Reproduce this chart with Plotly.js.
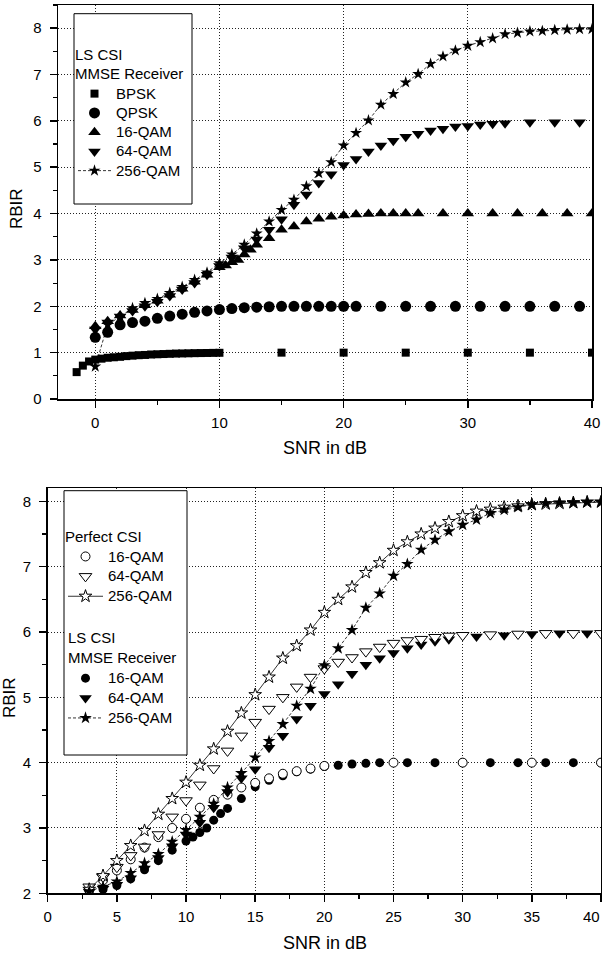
<!DOCTYPE html>
<html><head><meta charset="utf-8">
<script src="https://cdn.plot.ly/plotly-3.0.1.min.js"></script>
<style>html,body{margin:0;padding:0;background:#fff}#chart{width:602px;height:958px}</style>
</head><body><div id="chart"></div>
<script>
// ---------- Top panel: LS CSI, MMSE receiver ----------
const bpskX = [-1.5,-1,-0.5,0,0.5,1,1.5,2,2.5,3,3.5,4,4.5,5,5.5,6,6.5,7,7.5,8,8.5,9,9.5,10,15,20,25,30,35,40];
const bpskY = [0.58,0.72,0.81,0.85,0.87,0.89,0.9,0.91,0.925,0.935,0.945,0.95,0.96,0.965,0.97,0.975,0.98,0.983,0.986,0.989,0.991,0.993,0.995,0.997,1,1,1,1,1,1];
const qpskX = [0,1,2,3,4,5,6,7,8,9,10,11,12,13,14,15,16,17,18,19,20,21,23,25,27,29,31,33,35,37,39];
const qpskY = [1.33,1.44,1.6,1.65,1.68,1.74,1.79,1.83,1.87,1.9,1.93,1.95,1.97,1.98,1.99,2,2,2,2,2,2,2,2,2,2,2,2,2,2,2,2];
const q16X = [0,1,2,3,4,5,6,7,8,9,10,10.5,11,11.5,12,12.5,13,14,15,16,17,18,19,20,21,22,23,24,25,26,28,30,32,34,36,38,40];
const q16Y = [1.57,1.68,1.8,1.92,2.02,2.12,2.25,2.38,2.53,2.68,2.84,2.88,2.95,3.0,3.12,3.22,3.33,3.47,3.65,3.72,3.83,3.89,3.93,3.96,3.98,3.99,4,4,4,4,4,4,4,4,4,4,4];
const q64X = [0,1,2,3,4,5,6,7,8,9,10,11,12,13,14,15,16,17,18,19,20,21,22,23,24,25,26,27,28,29,30,31,32,33,35,37,39];
const q64Y = [1.5,1.65,1.78,1.9,2.0,2.1,2.22,2.36,2.5,2.68,2.87,3.05,3.25,3.44,3.65,3.88,4.19,4.41,4.66,4.85,5.05,5.18,5.34,5.47,5.57,5.66,5.72,5.79,5.83,5.88,5.89,5.92,5.94,5.95,5.97,5.97,5.97];
const q256X = [0,1,2,3,4,5,6,7,8,9,10,11,12,13,14,15,16,17,18,19,20,21,22,23,24,25,26,27,28,29,30,31,32,33,34,35,36,37,38,39,40];
const q256Y = [0.7,1.6,1.78,1.96,2.07,2.16,2.29,2.42,2.57,2.73,2.93,3.12,3.33,3.57,3.83,4.08,4.3,4.59,4.87,5.11,5.47,5.74,6.01,6.35,6.58,6.83,7.01,7.23,7.39,7.52,7.62,7.70,7.78,7.87,7.9,7.93,7.94,7.96,7.97,7.98,7.98];

// ---------- Bottom panel: Perfect CSI vs LS CSI ----------
const p16X = [3,4,5,6,7,8,9,10,11,12,13,14,15,16,17,18,19,20,25,30,35,40];
const p16Y = [2.05,2.2,2.35,2.52,2.7,2.86,3.0,3.14,3.31,3.43,3.51,3.62,3.69,3.76,3.83,3.87,3.91,3.95,4,4,4,4];
const p64X = [3,4,5,6,7,8,9,10,11,12,13,14,15,16,17,18,19,20,21,22,23,24,25,26,27,28,29,30,32,34,36,38,40];
const p64Y = [2.1,2.25,2.4,2.58,2.71,2.9,3.17,3.42,3.66,3.91,4.18,4.41,4.62,4.82,5.0,5.16,5.31,5.44,5.54,5.61,5.7,5.77,5.83,5.87,5.89,5.92,5.94,5.95,5.96,5.97,5.98,5.98,5.98];
const p256X = [3,4,5,6,7,8,9,10,11,12,13,14,15,16,17,18,19,20,21,22,23,24,25,26,27,28,29,30,31,32,33,34,35,36,37,38,39,40];
const p256Y = [2.06,2.27,2.5,2.73,2.96,3.21,3.45,3.7,3.96,4.21,4.48,4.76,5.04,5.31,5.6,5.79,6.03,6.3,6.5,6.69,6.91,7.06,7.25,7.38,7.5,7.59,7.69,7.78,7.85,7.88,7.91,7.93,7.95,7.96,7.97,7.98,7.99,7.99];
const l16X = [3,4,5,6,7,8,9,10,10.5,11,11.5,12,12.5,13,14,15,16,17,18,19,20,21,22,23,24,26,28,30,32,34,36,38,40];
const l16Y = [2.0,2.06,2.12,2.22,2.36,2.5,2.66,2.8,2.86,2.93,3.0,3.12,3.22,3.3,3.45,3.63,3.73,3.8,3.86,3.9,3.94,3.96,3.98,3.99,4,4,4,4,4,4,4,4,4];
const l64X = [3,4,5,6,7,8,9,10,11,12,13,14,15,16,17,18,19,20,21,22,23,24,25,26,27,28,29,31,33,35,37,39];
const l64Y = [2.02,2.07,2.13,2.23,2.38,2.54,2.72,2.9,3.08,3.31,3.55,3.76,3.9,4.23,4.41,4.67,4.87,5.05,5.2,5.36,5.5,5.6,5.68,5.75,5.81,5.86,5.89,5.93,5.95,5.97,5.98,5.98];
const l256X = [3,4,5,6,7,8,9,10,11,12,13,14,15,16,17,18,19,20,21,22,23,24,25,26,27,28,29,30,31,32,33,34,35,36,37,38,39,40];
const l256Y = [2.03,2.1,2.18,2.31,2.46,2.6,2.79,2.97,3.17,3.37,3.62,3.84,4.08,4.33,4.59,4.87,5.13,5.49,5.75,6.03,6.37,6.59,6.86,7.04,7.26,7.41,7.54,7.64,7.72,7.82,7.87,7.91,7.95,7.97,7.98,7.98,7.99,7.99];

// bottom x tick labels (last one is written separately so it is not cut at the page edge)
const x2TickVals = [0,5,10,15,20,25,30,35,40];
const x2TickText = ['0','5','10','15','20','25','30','35',''];
const x2LastLabel = '40';

const xTitle = 'SNR in dB';
const yTitle = 'RBIR';

const FONT = '"Liberation Sans", Arial, Helvetica, sans-serif';
const BLK = '#000';
function lbl(t){ return '<span style="font-size:15px">' + t + '</span>'; }

const filled = (sym, size) => ({symbol: sym, size: size, color: BLK, line: {width: 0}});
const hollow = (sym, size) => ({symbol: sym, size: size, color: '#fff', line: {color: BLK, width: 1}});

const data = [
  {x: bpskX, y: bpskY, xaxis: 'x', yaxis: 'y', mode: 'markers', name: lbl('BPSK'), legend: 'legend', marker: filled('square', 8)},
  {x: qpskX, y: qpskY, xaxis: 'x', yaxis: 'y', mode: 'markers', name: lbl('QPSK'), legend: 'legend', marker: filled('circle', 11)},
  {x: q16X, y: q16Y, xaxis: 'x', yaxis: 'y', mode: 'markers', name: lbl('16-QAM'), legend: 'legend', marker: filled('triangle-up', 11)},
  {x: q64X, y: q64Y, xaxis: 'x', yaxis: 'y', mode: 'markers', name: lbl('64-QAM'), legend: 'legend', marker: filled('triangle-down', 11)},
  {x: q256X, y: q256Y, xaxis: 'x', yaxis: 'y', mode: 'lines+markers', name: lbl('256-QAM'), legend: 'legend',
   line: {color: BLK, width: 0.8, dash: '3px,2px'}, marker: filled('star', 9)},

  {x: l16X, y: l16Y, xaxis: 'x2', yaxis: 'y2', mode: 'markers', name: lbl('16-QAM'), legend: 'legend2',
   legendgroup: 'ls', legendgrouptitle: {text: 'LS CSI<br>MMSE Receiver', font: {size: 15, family: FONT, color: BLK}}, legendrank: 4,
   marker: filled('circle', 9)},
  {x: p16X, y: p16Y, xaxis: 'x2', yaxis: 'y2', mode: 'markers', name: lbl('16-QAM'), legend: 'legend2',
   legendgroup: 'perfect', legendrank: 1, marker: hollow('circle', 9)},
  {x: l64X, y: l64Y, xaxis: 'x2', yaxis: 'y2', mode: 'markers', name: lbl('64-QAM'), legend: 'legend2',
   legendgroup: 'ls', legendrank: 5, marker: filled('triangle-down', 11)},
  {x: p64X, y: p64Y, xaxis: 'x2', yaxis: 'y2', mode: 'markers', name: lbl('64-QAM'), legend: 'legend2',
   legendgroup: 'perfect', legendrank: 2, marker: hollow('triangle-down', 11)},
  {x: p256X, y: p256Y, xaxis: 'x2', yaxis: 'y2', mode: 'lines+markers', name: lbl('256-QAM'), legend: 'legend2',
   legendgroup: 'perfect', legendrank: 3, line: {color: BLK, width: 0.8}, marker: hollow('star', 9.5)},
  {x: l256X, y: l256Y, xaxis: 'x2', yaxis: 'y2', mode: 'lines+markers', name: lbl('256-QAM'), legend: 'legend2',
   legendgroup: 'ls', legendrank: 6, line: {color: BLK, width: 0.8, dash: '3px,2px'}, marker: filled('star', 9.5)}
];

const W = 602, H = 958;
const axBase = {
  showline: true, linecolor: BLK, linewidth: 1.5, mirror: true,
  ticks: 'outside', ticklen: 7, tickwidth: 1.5, tickcolor: BLK,
  showgrid: true, gridcolor: '#222', gridwidth: 1, griddash: '1px,2px',
  zeroline: false, automargin: false, fixedrange: true,
  tickfont: {family: FONT, size: 15, color: BLK}
};
const minorT = (d) => ({dtick: d, ticks: 'outside', ticklen: 4, tickwidth: 1.2, tickcolor: BLK, showgrid: false});

const layout = {
  width: W, height: H,
  margin: {l: 0, r: 0, t: 0, b: 0},
  paper_bgcolor: '#fff', plot_bgcolor: '#fff',
  font: {family: FONT, size: 15, color: BLK},
  showlegend: true,
  xaxis: Object.assign({}, axBase, {domain: [58/W, 592/W], range: [-3, 40], anchor: 'y', tick0: 0, dtick: 10, minor: minorT(5), ticklabelstandoff: 2}),
  yaxis: Object.assign({}, axBase, {domain: [1 - 399/H, 1 - 5/H], range: [0, 8.5], anchor: 'x', tick0: 0, dtick: 1, minor: minorT(0.5), ticklabelstandoff: 5}),
  xaxis2: Object.assign({}, axBase, {domain: [47.7/W, 601/W], range: [0, 40], anchor: 'y2', tickmode: 'array', tickvals: x2TickVals, ticktext: x2TickText,
    minor: Object.assign(minorT(2.5), {tick0: 0}), ticklabelstandoff: 2}),
  yaxis2: Object.assign({}, axBase, {domain: [1 - 893.3/H, 1 - 488.3/H], range: [2, 8.2], anchor: 'x2', tick0: 0, dtick: 1, minor: minorT(0.5), ticklabelstandoff: 5}),
  legend: {
    x: 73/W, y: 1 - 40/H, xanchor: 'left', yanchor: 'top',
    bgcolor: 'rgba(0,0,0,0)', borderwidth: 0,
    font: {family: FONT, size: 12.5, color: BLK},
    title: {text: 'LS CSI<br>MMSE Receiver', font: {family: FONT, size: 15, color: BLK}},
    itemsizing: 'trace', itemwidth: 33, tracegroupgap: 0
  },
  legend2: {
    x: 63/W, y: 1 - 522/H, xanchor: 'left', yanchor: 'top',
    bgcolor: 'rgba(0,0,0,0)', borderwidth: 0,
    font: {family: FONT, size: 13, color: BLK},
    title: {text: 'Perfect CSI', font: {family: FONT, size: 15, color: BLK}},
    traceorder: 'grouped', tracegroupgap: 20, itemsizing: 'trace', itemwidth: 35
  },
  shapes: [
    {type: 'rect', xref: 'paper', yref: 'paper', x0: 74/W, x1: 192/W, y0: 1 - 204/H, y1: 1 - 13.7/H,
     fillcolor: '#fff', line: {color: BLK, width: 1}, layer: 'above'},
    {type: 'rect', xref: 'paper', yref: 'paper', x0: 64/W, x1: 187/W, y0: 1 - 755/H, y1: 1 - 490.7/H,
     fillcolor: '#fff', line: {color: BLK, width: 1}, layer: 'above'}
  ],
  annotations: [
    {text: xTitle, xref: 'paper', yref: 'paper', x: 325/W, y: 1 - 448/H, xanchor: 'center', yanchor: 'middle', showarrow: false, font: {family: FONT, size: 18, color: BLK}},
    {text: yTitle, xref: 'paper', yref: 'paper', x: 16/W, y: 1 - 209/H, xanchor: 'center', yanchor: 'middle', textangle: -90, showarrow: false, font: {family: FONT, size: 17, color: BLK}},
    {text: xTitle, xref: 'paper', yref: 'paper', x: 324.5/W, y: 1 - 943/H, xanchor: 'center', yanchor: 'middle', showarrow: false, font: {family: FONT, size: 18, color: BLK}},
    {text: yTitle, xref: 'paper', yref: 'paper', x: 9/W, y: 1 - 698/H, xanchor: 'center', yanchor: 'middle', textangle: -90, showarrow: false, font: {family: FONT, size: 17, color: BLK}},
    {text: x2LastLabel, xref: 'paper', yref: 'paper', x: 1, y: 1 - 916/H, xanchor: 'right', yanchor: 'middle', showarrow: false, font: {family: FONT, size: 15, color: BLK}}
  ]
};

Plotly.newPlot('chart', data, layout, {staticPlot: true, displayModeBar: false});
</script></body></html>
